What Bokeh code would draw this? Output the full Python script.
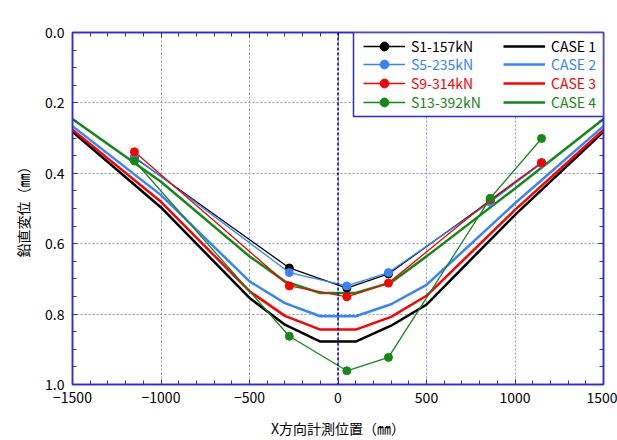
from bokeh.plotting import figure
from bokeh.models import (Range1d, LinearAxis, FixedTicker, Grid, Span, Label,
                          Legend, LegendItem, BoxAnnotation, PrintfTickFormatter,
                          CustomJSTickFormatter)
from bokeh.embed import file_html
from bokeh.resources import INLINE

# ---- measured vertical displacement (mm) at gauge positions (mm) ----
meas_x = [-1150, -275, 50, 285, 860, 1150]
s1_157kN = [0.355, 0.669, 0.726, 0.686, 0.478, 0.370]
s5_235kN = [0.353, 0.682, 0.720, 0.682, 0.482, 0.372]
s9_314kN = [0.339, 0.720, 0.751, 0.712, 0.475, 0.370]
s13_392kN = [0.365, 0.863, 0.961, 0.923, 0.471, 0.301]

# ---- analysis cases ----
case_x = [-1500, -1000, -500, -300, -100, 100, 300, 500, 1000, 1500]
case1 = [0.282, 0.497, 0.754, 0.830, 0.878, 0.878, 0.833, 0.773, 0.518, 0.282]
case2 = [0.266, 0.462, 0.707, 0.769, 0.806, 0.806, 0.772, 0.717, 0.485, 0.266]
case3 = [0.276, 0.481, 0.735, 0.805, 0.844, 0.844, 0.808, 0.748, 0.504, 0.276]
case4 = [0.246, 0.424, 0.636, 0.707, 0.740, 0.740, 0.710, 0.636, 0.443, 0.246]

meas_labels = ["S1-157kN", "S5-235kN", "S9-314kN", "S13-392kN"]
case_labels = ["CASE 1", "CASE 2", "CASE 3", "CASE 4"]

x_ticks = [-1500, -1000, -500, 0, 500, 1000, 1500]
x_minor = list(range(-1500, 1501, 100))
y_ticks = [0.0, 0.2, 0.4, 0.6, 0.8, 1.0]
y_minor = [i * 0.05 for i in range(21)]

COLORS = ["#000000", "#3385ff", "#ff0000", "#138a13"]
FRAME = "#2b2bd9"
GRID = "#8c8cf0"
FONT = "Noto Sans CJK JP"

p = figure(width=617, height=440,
           x_range=Range1d(-1500, 1500), y_range=Range1d(1.0, 0.0),
           x_axis_type=None, y_axis_type=None,
           output_backend="svg", toolbar_location=None,
           min_border_left=72, min_border_right=14,
           min_border_top=32, min_border_bottom=55,
           background_fill_color="white", border_fill_color="white")
p.outline_line_color = FRAME
p.outline_line_width = 1.5


def make_axis(ticks, minor, labelled):
    ax = LinearAxis(ticker=FixedTicker(ticks=ticks, minor_ticks=minor))
    ax.axis_line_color = FRAME
    ax.axis_line_width = 1.5
    ax.major_tick_line_color = FRAME
    ax.minor_tick_line_color = FRAME
    ax.major_tick_in = 5
    ax.major_tick_out = 0
    ax.minor_tick_in = 4
    ax.minor_tick_out = 0
    if labelled:
        ax.major_label_text_font = FONT
        ax.major_label_text_font_size = "14px"
        ax.major_label_text_color = "#000000"
        ax.axis_label_text_font = FONT
        ax.axis_label_text_font_size = "14px"
        ax.axis_label_text_font_style = "normal"
        ax.axis_label_text_color = "#000000"
    else:
        # tick marks only on the opposite sides of the frame
        ax.formatter = CustomJSTickFormatter(code="return ''")
        ax.major_label_standoff = 0
    return ax


xb = make_axis(x_ticks, x_minor, True)
xb.axis_label = "X方向計測位置（㎜）"
xb.major_label_standoff = 7
xb.axis_label_standoff = 12
p.add_layout(xb, "below")

yl = make_axis(y_ticks, y_minor, True)
yl.axis_label = "鉛直変位（㎜）"
yl.formatter = PrintfTickFormatter(format="%.1f")
yl.major_label_standoff = 8
yl.axis_label_standoff = 9
p.add_layout(yl, "left")

p.add_layout(make_axis(x_ticks, x_minor, False), "above")
p.add_layout(make_axis(y_ticks, y_minor, False), "right")

for dim, ticks in ((0, x_ticks), (1, y_ticks)):
    g = Grid(dimension=dim, ticker=FixedTicker(ticks=ticks),
             grid_line_color=GRID, grid_line_dash="2 2", grid_line_width=1)
    p.add_layout(g, "center")

# analysis curves
case_r = []
for ys, c in zip([case1, case2, case3, case4], COLORS):
    case_r.append(p.line(case_x, ys, line_color=c, line_width=2.5))

# measured points
meas_r = []
for ys, c in zip([s1_157kN, s5_235kN, s9_314kN, s13_392kN], COLORS):
    ln = p.line(meas_x, ys, line_color=c, line_width=1.3)
    sc = p.scatter(meas_x, ys, size=8, fill_color=c, line_color=c)
    meas_r.append([ln, sc])

# loading position
p.add_layout(Span(location=0, dimension="height", line_color="#0000b0",
                  line_dash="3 2", line_width=1.5))
p.add_layout(Label(x=0, y=-0.028, text="↓載荷位置", x_offset=-5,
                   text_font=FONT, text_font_size="15px", text_color="#1a1acc",
                   text_baseline="middle", text_align="left"))
p.add_layout(Label(x=1445, y=-0.028, text="WR-180",
                   text_font=FONT, text_font_size="13px", text_color="#000000",
                   text_baseline="middle", text_align="right"))

# legend frame
p.add_layout(BoxAnnotation(left=353, right=603, top=32, bottom=116,
                           left_units="canvas", right_units="canvas",
                           top_units="canvas", bottom_units="canvas",
                           fill_color="white", fill_alpha=1.0,
                           line_color=FRAME, line_width=1.5, line_alpha=1.0))

# one legend row per load step so each row carries its own colour
frame_h = 440 - 32 - 55
for k in range(4):
    center = 14.7 + 18.7 * k
    leg = Legend(items=[LegendItem(label=meas_labels[k], renderers=meas_r[k]),
                        LegendItem(label=case_labels[k], renderers=[case_r[k]])],
                 orientation="horizontal",
                 location=(291, frame_h - center - 11),
                 glyph_width=42, glyph_height=22, label_height=22,
                 label_width=86, label_standoff=6, spacing=6,
                 padding=0, margin=0,
                 border_line_alpha=0, background_fill_alpha=0,
                 label_text_color=COLORS[k], label_text_font=FONT,
                 label_text_font_size="14px")
    p.add_layout(leg, "center")

open("out.html", "w").write(file_html(p, INLINE))
